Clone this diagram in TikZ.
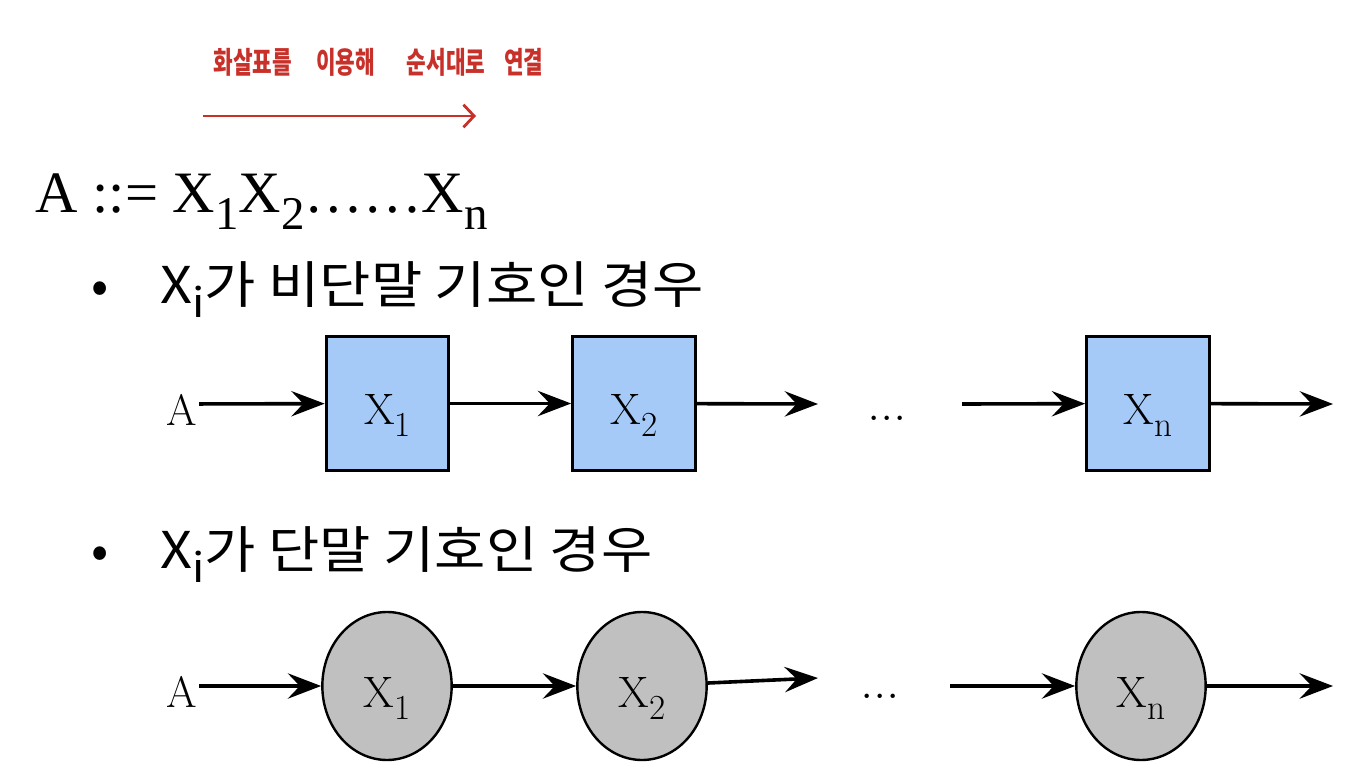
\documentclass[tikz,border=0pt]{standalone}
\usepackage{fontspec}
\usepackage{graphicx}
\newfontfamily\krfont{Noto Sans CJK KR}
\newfontfamily\tmsfont{Liberation Serif}
\usetikzlibrary{arrows.meta,shapes.geometric}
\newcommand\lowsub[1]{\raisebox{-0.28em}{\scalebox{0.8}{#1}}}
\newcommand\widetext[1]{\scalebox{1.1}[1]{#1}}
\definecolor{boxblue}{RGB}{166,202,248}
\definecolor{nodegray}{RGB}{192,192,192}
\definecolor{penred}{RGB}{200,48,42}
\tikzset{every picture/.style={line width=0.75pt}}
\tikzset{
  symbox/.style={draw, line width=2.3pt, fill=boxblue, minimum width=92pt, minimum height=100pt, inner sep=0pt, symtext},
  symcirc/.style={ellipse, draw, line width=1.8pt, fill=nodegray, minimum width=97pt, minimum height=111pt, inner sep=0pt, symtext},
  symtext/.style={font=\fontsize{33}{36}\selectfont, text height=33pt, text depth=1.5pt},
  symlabel/.style={symtext, inner sep=1pt},
  flow/.style={-{Stealth[length=25pt,width=19pt,inset=9pt]}, line width=2.7pt},
  casetext/.style={anchor=base west, inner sep=0pt, font=\krfont\fontsize{38}{40}\selectfont},
  gapdots/.style={anchor=base, font=\fontsize{40}{44}\selectfont},
}

\begin{document}
\begin{tikzpicture}[x=0.75pt,y=0.75pt,yscale=-1,xscale=1]
	\useasboundingbox (0,0) rectangle (1356,784);

	% Text Node
	\node (note) [anchor=base west, inner sep=0pt, text=penred, font=\krfont\bfseries\fontsize{16}{18}\selectfont] at (213,74) {\scalebox{1}[1.4]{화살표를\hspace{18pt}이용해\hspace{24pt}순서대로\hspace{14pt}연결}};
	%Straight Lines
	\coordinate (noteL) at (203,116);
	\coordinate (noteR) at (476,116);
	\draw [penred, line width=2.1pt, -{Straight Barb[length=8pt,width=17pt]}] (noteL) -- (noteR);

	% Text Node
	\node (rule) [anchor=base west, inner sep=0pt, font=\tmsfont\fontsize{44}{48}\selectfont] at (35,213) {A ::= X\lowsub{1}X\lowsub{2}……X\lowsub{n}};

	% Text Node
	\node (dot1) [casetext, anchor=base] at (100,303) {•};
	\node (case1) [casetext] at (160,303) {\widetext{X\lowsub{i}가 비단말 기호인 경우}};

	%Shape: Rectangle
	\node (a1) [symlabel] at (182,404) {A};
	\node (bx1) [symbox] at (387.5,403.5) {X\lowsub{1}};
	\node (bx2) [symbox] at (634,403.5) {X\lowsub{2}};
	\node (bxn) [symbox] at (1148,403.5) {X\lowsub{n}};
	\node (dots1) [gapdots] at (887,420) {...};
	\coordinate (gap1L) at (818,404);
	\coordinate (gap1R) at (962,404);
	\coordinate (out1) at (1333,404);
	%Straight Lines
	\draw [flow] (a1) -- (bx1);
	\draw [flow] (bx1) -- (bx2);
	\draw [flow] (bx2) -- (gap1L);
	\draw [flow] (gap1R) -- (bxn);
	\draw [flow] (bxn) -- (out1);

	% Text Node
	\node (dot2) [casetext, anchor=base] at (100,568) {•};
	\node (case2) [casetext] at (160,568) {\widetext{X\lowsub{i}가 단말 기호인 경우}};

	%Shape: Ellipse
	\node (a2) [symlabel] at (182,686) {A};
	\node (el1) [symcirc] at (387,686) {X\lowsub{1}};
	\node (el2) [symcirc] at (642,686) {X\lowsub{2}};
	\node (eln) [symcirc] at (1141,686) {X\lowsub{n}};
	\node (dots2) [gapdots] at (880,698) {...};
	\coordinate (gap2L) at (818,678);
	\coordinate (gap2R) at (950,686);
	\coordinate (out2) at (1333,686);
	%Straight Lines
	\draw [flow] (a2) -- (el1);
	\draw [flow] (el1) -- (el2);
	\draw [flow] (el2) -- (gap2L);
	\draw [flow] (gap2R) -- (eln);
	\draw [flow] (eln) -- (out2);

\end{tikzpicture}
\end{document}
